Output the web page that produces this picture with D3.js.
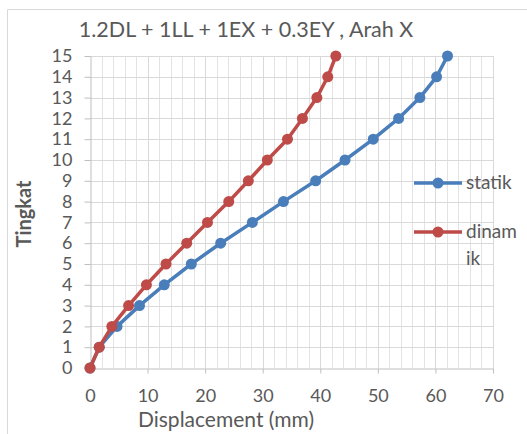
<!DOCTYPE html>
<html>
<head>
<meta charset="utf-8">
<script src="https://cdn.jsdelivr.net/npm/d3@7"></script>
<style>
  html, body { margin: 0; padding: 0; background: #fff; }
  svg { display: block; font-family: Lato, "Liberation Sans", sans-serif; }
</style>
</head>
<body>
<svg id="chart" width="527" height="434"></svg>
<script>
// Storey levels and lateral displacement (mm) per level
const levels = [0, 1, 2, 3, 4, 5, 6, 7, 8, 9, 10, 11, 12, 13, 14, 15];
const statik = [0, 1.6, 4.7, 8.6, 12.9, 17.6, 22.7, 28.2, 33.6, 39.2, 44.3, 49.2, 53.6, 57.3, 60.2, 62.1];
const dinamik = [0, 1.6, 3.8, 6.7, 9.8, 13.2, 16.8, 20.4, 24.1, 27.5, 30.8, 34.3, 36.9, 39.4, 41.3, 42.7];
const xTicks = [0, 10, 20, 30, 40, 50, 60, 70];
const seriesNames = ["statik", "dinamik"];
const seriesColors = ["#4a7ebb", "#be4b48"];

const svg = d3.select("#chart");
const textColor = "#595959";

// outer chart frame (left and top edges fall inside the view)
svg.append("path")
  .attr("d", "M7.5,434 V9.5 H527")
  .attr("fill", "none").attr("stroke", "#d9d9d9").attr("stroke-width", 1);

const x = d3.scaleLinear().domain([0, 70]).range([90, 493]);
const y = d3.scaleLinear().domain([0, 15]).range([368, 56]);

// minor vertical gridlines every 2 mm
const grid = svg.append("g");
grid.selectAll("line.minor")
  .data(d3.range(0, 71, 2).filter(v => v % 10 !== 0))
  .join("line")
  .attr("x1", d => Math.round(x(d)) + 0.5).attr("x2", d => Math.round(x(d)) + 0.5)
  .attr("y1", y(15)).attr("y2", y(0))
  .attr("stroke", "#e3e3e3");
// major vertical gridlines
grid.selectAll("line.vmaj")
  .data(xTicks.slice(1))
  .join("line")
  .attr("x1", d => Math.round(x(d)) + 0.5).attr("x2", d => Math.round(x(d)) + 0.5)
  .attr("y1", y(15)).attr("y2", y(0))
  .attr("stroke", "#d9d9d9");
// horizontal gridlines at each level
grid.selectAll("line.h")
  .data(levels.slice(1))
  .join("line")
  .attr("x1", x(0)).attr("x2", x(70))
  .attr("y1", d => Math.round(y(d)) + 0.5).attr("y2", d => Math.round(y(d)) + 0.5)
  .attr("stroke", "#d9d9d9");

// x axis
const xAxis = svg.append("g")
  .attr("transform", `translate(0,${Math.round(y(0)) + 0.5})`)
  .call(d3.axisBottom(x).tickValues(xTicks).tickSize(5).tickPadding(16).tickSizeOuter(0));
xAxis.select(".domain").attr("stroke", "#bfbfbf");
xAxis.selectAll(".tick line").attr("stroke", "#bfbfbf");
xAxis.selectAll(".tick text").attr("fill", textColor).style("font-size", "18px")
  .style("font-family", "Lato, sans-serif");

// y axis
const yAxis = svg.append("g")
  .attr("transform", `translate(${Math.round(x(0)) + 0.5},0)`)
  .call(d3.axisLeft(y).tickValues(levels).tickSize(6).tickPadding(12).tickSizeOuter(0));
yAxis.select(".domain").attr("stroke", "#bfbfbf");
yAxis.selectAll(".tick line").attr("stroke", "#bfbfbf");
yAxis.selectAll(".tick text").attr("fill", textColor).style("font-size", "18px")
  .style("font-family", "Lato, sans-serif");

// series lines and markers
const line = d3.line().x(d => x(d[0])).y(d => y(d[1]));
[statik, dinamik].forEach((vals, i) => {
  const pts = vals.map((v, k) => [v, levels[k]]);
  svg.append("path")
    .datum(pts)
    .attr("d", line)
    .attr("fill", "none")
    .attr("stroke", seriesColors[i])
    .attr("stroke-width", 3.5)
    .attr("stroke-linejoin", "round");
  svg.append("g").selectAll("circle")
    .data(pts)
    .join("circle")
    .attr("cx", d => x(d[0])).attr("cy", d => y(d[1]))
    .attr("r", 5.5)
    .attr("fill", seriesColors[i]);
});

// title
svg.append("text")
  .attr("x", 246).attr("y", 37)
  .attr("text-anchor", "middle")
  .attr("fill", textColor)
  .style("font-size", "21.5px")
  .text("1.2DL + 1LL + 1EX + 0.3EY , Arah X");

// axis titles
svg.append("text")
  .attr("x", 226).attr("y", 427)
  .attr("text-anchor", "middle")
  .attr("fill", textColor)
  .style("font-size", "21px")
  .text("Displacement (mm)");

svg.append("text")
  .attr("transform", "translate(31,214) rotate(-90)")
  .attr("text-anchor", "middle")
  .attr("fill", textColor)
  .style("font-size", "20px")
  .style("font-weight", "bold")
  .text("Tingkat");

// legend
const legendRows = [
  { y: 183, lines: ["statik"] },
  { y: 232, lines: ["dinam", "ik"] }
];
legendRows.forEach((row, i) => {
  const g = svg.append("g");
  g.append("line")
    .attr("x1", 414).attr("x2", 462)
    .attr("y1", row.y).attr("y2", row.y)
    .attr("stroke", seriesColors[i]).attr("stroke-width", 3.5);
  g.append("circle")
    .attr("cx", 438).attr("cy", row.y).attr("r", 5.5)
    .attr("fill", seriesColors[i]);
  row.lines.forEach((t, j) => {
    g.append("text")
      .attr("x", 466).attr("y", row.y + 6 + j * 27)
      .attr("fill", textColor)
      .style("font-size", "19px")
      .text(t);
  });
});
</script>
</body>
</html>
